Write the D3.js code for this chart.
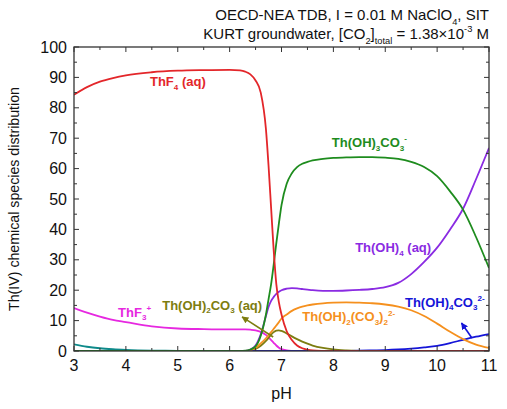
<!DOCTYPE html>
<html><head><meta charset="utf-8">
<script src="https://cdn.jsdelivr.net/npm/d3@7"></script>
<style>body{margin:0;background:#fff}svg{display:block}text{font-family:"Liberation Sans",Arial,sans-serif}</style>
</head><body>
<svg id="c" width="507" height="409"></svg>
<script>
const pH = [3.0,3.25,3.5,3.75,4.0,4.5,5.0,5.5,6.0,6.2,6.3,6.4,6.5,6.6,6.7,6.75,6.8,6.85,6.9,6.95,7.0,7.1,7.2,7.3,7.4,7.5,7.6,7.8,8.0,8.25,8.5,8.75,9.0,9.25,9.5,9.75,10.0,10.25,10.5,10.75,11.0];
const ThF4 = [84.3,86.8,88.6,89.8,90.7,91.7,92.2,92.4,92.5,92.3,91.9,91.0,89.0,85.0,73.0,61.0,47.0,33.0,22.0,16.0,12.0,6.5,3.6,1.8,0.9,0.45,0.2,0.05,0,0,0,0,0,0,0,0,0,0,0,0,0];
const ThOH3CO3 = [0,0,0,0,0,0,0,0,0,0,0.1,0.5,1.5,5.0,12.0,17.0,22.0,28.5,35.5,42.0,48.0,55.0,58.5,60.5,61.6,62.2,62.7,63.2,63.5,63.7,63.8,63.8,63.6,63.2,62.2,60.5,57.5,52.5,46.5,37.5,27.3];
const ThOH4 = [0,0,0,0,0,0,0,0,0,0,0,0.5,1.8,5.5,11.5,14.5,16.5,17.8,18.8,19.5,20.0,20.5,20.7,20.6,20.4,20.2,20.0,19.8,19.8,19.9,20.1,20.4,21.0,22.4,25.3,29.3,34.0,40.0,46.8,56.5,66.8];
const ThOH2CO32 = [0,0,0,0,0,0,0,0,0,0,0,0.3,1.0,2.5,4.2,5.2,6.2,7.3,8.4,9.5,10.7,12.0,13.2,14.0,14.6,15.0,15.3,15.7,15.9,16.0,15.9,15.7,15.3,14.6,13.4,11.5,9.0,6.3,3.9,2.1,1.0];
const ThF3 = [14.1,12.6,11.3,10.2,9.5,8.1,7.4,7.2,7.1,7.1,7.1,7.0,6.8,6.3,5.3,4.5,3.6,2.7,1.8,1.1,0.6,0.2,0.05,0,0,0,0,0,0,0,0,0,0,0,0,0,0,0,0,0,0];
const ThOH2CO3 = [0,0,0,0,0,0,0,0,0,0,0.05,0.2,0.7,1.7,3.3,4.3,5.4,6.2,6.7,6.8,6.6,5.8,4.8,3.9,3.1,2.4,1.8,1.0,0.5,0.2,0.05,0,0,0,0,0,0,0,0,0,0];
const ThOH4CO3 = [0,0,0,0,0,0,0,0,0,0,0,0,0,0,0,0,0,0,0,0,0,0,0,0,0,0,0,0,0,0.05,0.1,0.2,0.3,0.5,0.8,1.2,1.7,2.6,3.7,4.7,5.6];
const ThOther = [2.2,1.4,0.9,0.6,0.4,0.15,0.05,0,0,0,0,0,0,0,0,0,0,0,0,0,0,0,0,0,0,0,0,0,0,0,0,0,0,0,0,0,0,0,0,0,0];

const xTicks = [3,4,5,6,7,8,9,10,11];
const yTicks = [0,10,20,30,40,50,60,70,80,90,100];

const series = [
  {name:"other", values:ThOther, color:"#0e8a8a"},
  {name:"ThF3+", values:ThF3, color:"#e628e0"},
  {name:"Th(OH)2CO3", values:ThOH2CO3, color:"#7d7d10"},
  {name:"Th(OH)4CO3", values:ThOH4CO3, color:"#1515d8"},
  {name:"Th(OH)2(CO3)2", values:ThOH2CO32, color:"#f5901e"},
  {name:"Th(OH)4", values:ThOH4, color:"#8a2be2"},
  {name:"Th(OH)3CO3", values:ThOH3CO3, color:"#1e8c1e"},
  {name:"ThF4", values:ThF4, color:"#e3262a"}
];

const labels = [
  {segs:[["ThF"],["4","sub"],[" (aq)"]], color:"#e3262a", x:4.465, y:88.5},
  {segs:[["Th(OH)"],["3","sub"],["CO"],["3","sub"],["-","sup"]], color:"#1e8c1e", x:7.97, y:68.7},
  {segs:[["Th(OH)"],["4","sub"],[" (aq)"]], color:"#8a2be2", x:8.42, y:33.9},
  {segs:[["Th(OH)"],["4","sub"],["CO"],["3","sub"],["2-","sup"]], color:"#1515d8", x:9.38, y:16.1},
  {segs:[["Th(OH)"],["2","sub"],["(CO"],["3","sub"],[")"],["2","sub"],["2-","sup"]], color:"#f5901e", x:7.40, y:11.2},
  {segs:[["Th(OH)"],["2","sub"],["CO"],["3","sub"],[" (aq)"]], color:"#7d7d10", x:4.70, y:15.1},
  {segs:[["ThF"],["3","sub"],["+","sup"]], color:"#e628e0", x:3.85, y:12.8}
];
const arrows = [
  {from:[6.84,4.6], to:[6.24,11.2], color:"#7d7d10"},
  {from:[10.67,4.3], to:[10.47,9.2], color:"#1515d8"}
];

const svg = d3.select("#c");
const m = {l:74, t:47, r:18, b:58};
const W = 507 - m.l - m.r, H = 409 - m.t - m.b;
const x = d3.scaleLinear().domain([3,11]).range([m.l, m.l+W]);
const y = d3.scaleLinear().domain([0,100]).range([m.t+H, m.t]);

function rich(sel, segs, size){
  let pending = 0;
  segs.forEach(([t,s])=>{
    if(!s){
      sel.append("tspan").attr("font-size",size).attr("dy",pending).text(t);
      pending = 0;
    } else {
      const sh = s==="sub" ? size*0.3 : -size*0.45;
      sel.append("tspan").attr("font-size",size*0.62).attr("dy",sh+pending).text(t);
      pending = -sh;
    }
  });
}

const defs = svg.append("defs");
defs.selectAll("marker").data(arrows).join("marker")
  .attr("id",(d,i)=>"ah"+i).attr("viewBox","0 0 10 10").attr("refX",9).attr("refY",5)
  .attr("markerWidth",7).attr("markerHeight",7).attr("markerUnits","userSpaceOnUse").attr("orient","auto")
  .append("path").attr("d","M0,0L10,5L0,10z").attr("fill",d=>d.color);
defs.append("clipPath").attr("id","clip").append("rect")
  .attr("x",m.l).attr("y",m.t-2).attr("width",W).attr("height",H+2);

const line = d3.line().x((d,i)=>x(pH[i])).y(d=>y(d)).curve(d3.curveMonotoneX);
const g = svg.append("g").attr("clip-path","url(#clip)");
g.selectAll("path").data(series).join("path")
  .attr("d",d=>line(d.values)).attr("fill","none").attr("stroke",d=>d.color).attr("stroke-width",1.8);

const axCol = "#333";
const xMinor = d3.range(3,11.01,0.5), yMinor = d3.range(0,100.1,5);
const ax = svg.append("g");
const tk = (a)=>a.attr("stroke",axCol).attr("stroke-width",1);
xMinor.forEach(v=>{
  const L = Number.isInteger(v)?5:3;
  tk(ax.append("line").attr("x1",x(v)).attr("x2",x(v)).attr("y1",y(0)).attr("y2",y(0)-L));
  tk(ax.append("line").attr("x1",x(v)).attr("x2",x(v)).attr("y1",y(100)).attr("y2",y(100)+L));
});
yMinor.forEach(v=>{
  const L = v%10===0?5:3;
  tk(ax.append("line").attr("x1",x(3)).attr("x2",x(3)+L).attr("y1",y(v)).attr("y2",y(v)));
  tk(ax.append("line").attr("x1",x(11)).attr("x2",x(11)-L).attr("y1",y(v)).attr("y2",y(v)));
});
ax.append("rect").attr("x",m.l).attr("y",m.t).attr("width",W).attr("height",H)
  .attr("fill","none").attr("stroke",axCol).attr("stroke-width",1.3);

ax.selectAll("text.xt").data(xTicks).join("text").attr("class","xt")
  .attr("x",d=>x(d)).attr("y",y(0)+20).attr("text-anchor","middle").attr("font-size",16).attr("fill","#111").text(d=>d);
ax.selectAll("text.yt").data(yTicks).join("text").attr("class","yt")
  .attr("x",x(3)-7).attr("y",d=>y(d)+5.5).attr("text-anchor","end").attr("font-size",16).attr("fill","#111").text(d=>d);

svg.append("text").attr("x",x(7)).attr("y",399).attr("text-anchor","middle").attr("font-size",16).attr("fill","#111").text("pH");
svg.append("text").attr("transform",`translate(19,${y(50)}) rotate(-90)`).attr("text-anchor","middle")
  .attr("font-size",14.2).attr("fill","#111").text("Th(IV) chemical species distribution");

const t1 = svg.append("text").attr("x",x(11)).attr("y",20).attr("text-anchor","end").attr("fill","#111");
rich(t1, [["OECD-NEA TDB, I = 0.01 M NaClO"],["4","sub"],[", SIT"]], 15);
const t2 = svg.append("text").attr("x",x(11)).attr("y",39).attr("text-anchor","end").attr("fill","#111");
rich(t2, [["KURT groundwater, [CO"],["2","sub"],["]"],["total","sub"],[" = 1.38\u00d710"],["-3","sup"],[" M"]], 15);

labels.forEach(l=>{
  const t = svg.append("text").attr("x",x(l.x)).attr("y",y(l.y)+4.5).attr("fill",l.color).attr("font-weight","bold");
  rich(t, l.segs, 13);
});
svg.selectAll("line.arr").data(arrows).join("line").attr("class","arr")
  .attr("x1",d=>x(d.from[0])).attr("y1",d=>y(d.from[1])).attr("x2",d=>x(d.to[0])).attr("y2",d=>y(d.to[1]))
  .attr("stroke",d=>d.color).attr("stroke-width",1.6).attr("marker-end",(d,i)=>`url(#ah${i})`);
</script>
</body></html>
